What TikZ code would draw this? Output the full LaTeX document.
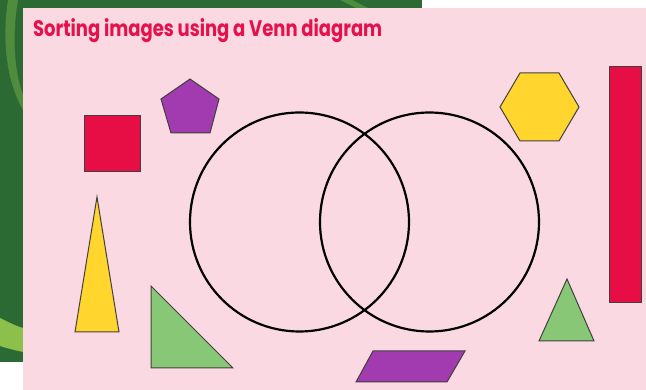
\documentclass[tikz,border=0pt]{standalone}
\usepackage{fontspec}
\newfontfamily\titlefont{Poppins}

\definecolor{slidepink}{HTML}{FAD9E2}
\definecolor{titlered}{HTML}{E6104B}
\definecolor{shapered}{HTML}{E60E45}
\definecolor{shapepurple}{HTML}{A23BAF}
\definecolor{shapeyellow}{HTML}{FFD52E}
\definecolor{shapegreen}{HTML}{88C776}
\definecolor{leafdark}{HTML}{2C6A33}
\definecolor{leafmid}{HTML}{4F8C3E}
\definecolor{leaflime}{HTML}{8DC04A}

\begin{document}
\begin{tikzpicture}[
  x=1pt,y=-1pt,
  shapeline/.style={draw=black!75,line width=1pt,line join=miter},
  redshape/.style={shapeline,fill=shapered},
  purpleshape/.style={shapeline,fill=shapepurple},
  yellowshape/.style={shapeline,fill=shapeyellow},
  greenshape/.style={shapeline,fill=shapegreen},
  venn/.style={draw=black,line width=2.2pt,circle,minimum size=219pt,
               inner sep=0pt},
  heading/.style={anchor=base west,inner sep=0pt,text=titlered},
]
\useasboundingbox (0,0) rectangle (646,390);

% ---- backdrop: leaf photo behind the slide, pink slide on top ----
\fill[white] (0,0) rectangle (646,390);
\fill[leafdark] (0,0) rectangle (422,8);
\fill[leafdark] (0,0) rectangle (23,362);
\fill[leafmid] (8,0) .. controls (2,40) and (6,80) .. (23,110)
               -- (23,95) .. controls (14,70) and (12,35) .. (18,0) -- cycle;
\fill[leafmid] (340,0) -- (352,0) -- (368,8) -- (356,8) -- cycle;
\fill[leaflime] (0,318) .. controls (8,322) and (16,326) .. (23,328)
                -- (23,352) .. controls (14,350) and (6,348) .. (0,346) -- cycle;
\fill[slidepink] (23,8) rectangle (646,390);

% ---- heading ----
\node[heading] (title) at (33,37)
     {\resizebox{349pt}{18pt}{\titlefont\bfseries Sorting images using a Venn diagram}};

% ---- the two sets ----
\node[venn] (setA) at (299.5,222) {};
\node[venn] (setB) at (429.5,222) {};

% ---- shapes to sort, left side ----
\draw[redshape] (84,116) rectangle (140,172);
\draw[purpleshape] (190,79) -- (219,99) -- (210,133) -- (171,133)
                   -- (161,99) -- cycle;
\draw[yellowshape] (97,197) -- (119,332) -- (75,332) -- cycle;
\draw[greenshape] (151,286) -- (233,368) -- (151,368) -- cycle;

% ---- shapes to sort, bottom and right side ----
\draw[purpleshape] (373,351) -- (465,351) -- (447,382) -- (356,382) -- cycle;
\draw[yellowshape] (520,73) -- (559,73) -- (579,107) -- (559,141)
                   -- (520,141) -- (500,107) -- cycle;
\draw[redshape] (609,67) rectangle (641,303);
\draw[greenshape] (567,279) -- (594,341) -- (539,341) -- cycle;

\end{tikzpicture}
\end{document}
